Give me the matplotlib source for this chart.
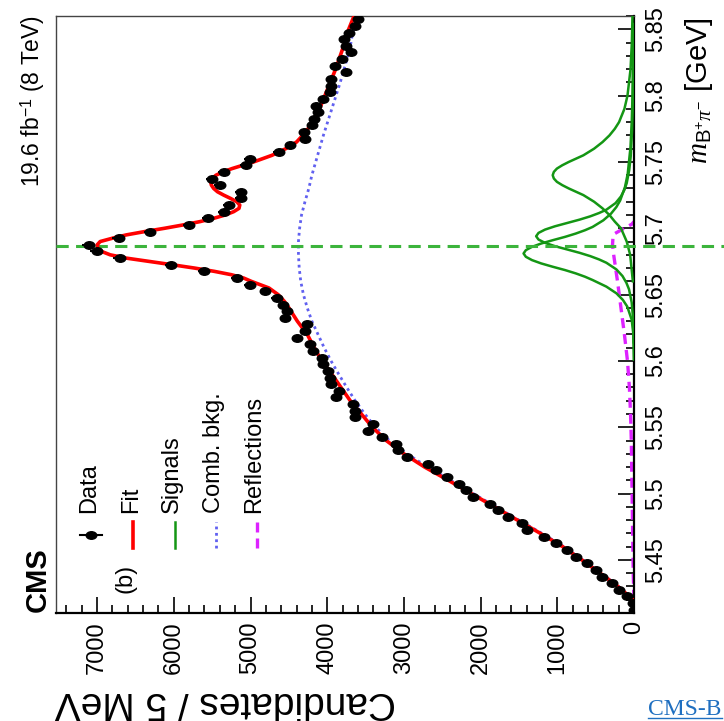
"""CMS B+pi- invariant mass fit, drawn rotated as in the source screenshot."""

import numpy as np
import matplotlib
matplotlib.use("Agg")
from matplotlib import pyplot as plt
from matplotlib.lines import Line2D
from matplotlib.path import Path
from matplotlib.transforms import Affine2D
from matplotlib.ticker import MultipleLocator, FuncFormatter

plt.rcParams["font.family"] = ["Liberation Sans", "DejaVu Sans"]
plt.rcParams["mathtext.fontset"] = "custom"
plt.rcParams["mathtext.rm"] = "Liberation Sans"
plt.rcParams["mathtext.it"] = "Liberation Serif:italic"
plt.rcParams["mathtext.bf"] = "Liberation Sans:bold"

# ---------------------------------------------------------------------------
# data (mass in GeV, counts per 5 MeV)
# ---------------------------------------------------------------------------
bin_lo = 5.41
bin_w = 0.005
data_counts = [
    0, 10, 91, 195, 286, 417, 495, 612, 755, 872,
    1016, 1172, 1393, 1458, 1641, 1771, 1875, 2096, 2187, 2279,
    2435, 2578, 2682, 2956, 3073, 3099, 3281, 3464, 3398, 3633,
    3633, 3659, 3880, 3841, 3945, 3958, 3984, 4049, 4063, 4180,
    4219, 4388, 4284, 4258, 4544, 4518, 4570, 4661, 4805, 5013,
    5182, 5612, 6042, 6706, 7005, 7109, 6719, 6315, 5807, 5560,
    5352, 5286, 5130, 5130, 5404, 5508, 5352, 5065, 5013, 4635,
    4479, 4284, 4297, 4200, 4167, 4115, 4141, 4049, 3958, 3945,
    3945, 3750, 3893, 3802, 3685, 3750, 3776, 3711, 3633, 3594,
]

fit_m = [5.419, 5.4225, 5.43, 5.44, 5.45, 5.46, 5.47, 5.48, 5.49, 5.50,
         5.51, 5.52, 5.53, 5.54, 5.55, 5.56, 5.57, 5.58, 5.59, 5.60,
         5.61, 5.62, 5.63, 5.64, 5.645, 5.65, 5.655, 5.66,
         5.6625, 5.665, 5.6675, 5.67, 5.6725, 5.675, 5.6775, 5.68, 5.6825, 5.685,
         5.6875, 5.69, 5.6925, 5.695, 5.6975, 5.70, 5.7025, 5.705, 5.7075, 5.71,
         5.7125, 5.715, 5.7175, 5.72, 5.7225, 5.725, 5.7275, 5.73, 5.7325, 5.735,
         5.7375, 5.74, 5.7425, 5.745, 5.7475, 5.75,
         5.755, 5.76, 5.765, 5.77, 5.775, 5.78,
         5.79, 5.80, 5.81, 5.82, 5.83, 5.84, 5.85, 5.86]
fit_v = [0, 60, 210, 440, 680, 930, 1220, 1520, 1820, 2120,
         2420, 2730, 3000, 3230, 3410, 3555, 3700, 3820, 3940, 4070,
         4170, 4260, 4390, 4500, 4560, 4640, 4760, 4990,
         5090, 5250, 5470, 5730, 6020, 6320, 6620, 6830, 6940, 6990,
         7000, 6960, 6800, 6620, 6380, 6120, 5880, 5660, 5480, 5330,
         5220, 5150, 5140, 5180, 5260, 5350, 5430, 5480, 5510, 5520,
         5500, 5450, 5360, 5240, 5100, 4960,
         4720, 4540, 4400, 4320, 4250, 4200,
         4100, 4030, 3960, 3890, 3830, 3770, 3720, 3650]

bkg_m = [5.419, 5.4225, 5.43, 5.44, 5.45, 5.46, 5.47, 5.48, 5.49, 5.50,
         5.51, 5.52, 5.53, 5.54, 5.55, 5.56, 5.57, 5.58, 5.59, 5.60,
         5.61, 5.62, 5.63, 5.64, 5.65, 5.66, 5.67, 5.68, 5.69, 5.70,
         5.71, 5.72, 5.73, 5.74, 5.75, 5.76, 5.77, 5.78, 5.79, 5.80,
         5.81, 5.82, 5.83, 5.84, 5.85, 5.86]
bkg_v = [0, 55, 200, 430, 670, 915, 1200, 1500, 1800, 2095,
         2390, 2690, 2960, 3190, 3370, 3510, 3635, 3745, 3850, 3950,
         4040, 4120, 4200, 4260, 4310, 4345, 4365, 4375, 4375, 4360,
         4335, 4290, 4240, 4200, 4150, 4100, 4050, 3995, 3940, 3885,
         3830, 3780, 3730, 3690, 3660, 3630]

sig1_m = [5.601, 5.621, 5.631, 5.641, 5.646, 5.651, 5.656, 5.661, 5.6635, 5.666,
          5.6685, 5.671, 5.6735, 5.676, 5.6785, 5.681, 5.6835, 5.686, 5.6885, 5.691,
          5.6935, 5.696, 5.6985, 5.701, 5.706, 5.711, 5.716, 5.721, 5.731, 5.741,
          5.761, 5.781, 5.801, 5.841]
sig1_v = [2, 10, 30, 88, 145, 230, 360, 540, 640, 760,
          900, 1060, 1210, 1330, 1410, 1440, 1410, 1330, 1210, 1060,
          900, 760, 640, 540, 400, 300, 230, 180, 118, 82,
          46, 29, 19, 10]

sig2_m = [5.614, 5.634, 5.644, 5.654, 5.659, 5.664, 5.669, 5.674, 5.6765, 5.679,
          5.6815, 5.684, 5.6865, 5.689, 5.6915, 5.694, 5.6965, 5.699, 5.7015, 5.704,
          5.7065, 5.709, 5.7115, 5.714, 5.719, 5.724, 5.729, 5.734, 5.744, 5.754,
          5.774, 5.794, 5.814, 5.854]
sig2_v = [4, 15, 30, 65, 100, 150, 230, 360, 455, 570,
          710, 870, 1030, 1160, 1245, 1276, 1245, 1160, 1030, 870,
          710, 570, 455, 360, 240, 170, 125, 95, 62, 43,
          25, 16, 11, 6]

sig3_m = [5.660, 5.680, 5.690, 5.700, 5.705, 5.710, 5.715, 5.720, 5.7225, 5.725,
          5.7275, 5.730, 5.7325, 5.735, 5.7375, 5.740, 5.7425, 5.745, 5.7475, 5.750,
          5.7525, 5.755, 5.7575, 5.760, 5.765, 5.770, 5.775, 5.780, 5.790, 5.800,
          5.820, 5.840, 5.860]
sig3_v = [15, 50, 95, 170, 250, 320, 410, 520, 590, 660,
          755, 850, 935, 1005, 1045, 1060, 1045, 1005, 935, 850,
          755, 660, 590, 520, 410, 320, 250, 195, 125, 85,
          45, 28, 20]

refl_m = [5.42, 5.44, 5.46, 5.48, 5.50, 5.52, 5.54, 5.56, 5.58, 5.60,
          5.62, 5.64, 5.66, 5.67, 5.68, 5.6875, 5.6925, 5.696, 5.70, 5.703, 5.705]
refl_v = [0, 10, 15, 20, 25, 30, 35, 45, 60, 85,
          125, 170, 215, 240, 265, 280, 275, 250, 130, 30, 0]

peak_mass = 5.6868

# ---------------------------------------------------------------------------
# figure
# ---------------------------------------------------------------------------
W, H = 724, 721


def fx(x):
    return x / W


def fy(y):
    return 1 - y / H


fig = plt.figure(figsize=(W / 100, H / 100), dpi=100)
ax = fig.add_axes([fx(55.7), fy(613), fx(634) - fx(55.7), fy(16) - fy(613)])

# ellipse marker (the screenshot is stretched sideways)
ell = Path.unit_circle().transformed(Affine2D().scale(1.4, 1.0))

counts = np.array(data_counts, dtype=float)
centers = bin_lo + bin_w * (np.arange(len(counts)) + 0.5)

ax.plot(bkg_v, bkg_m, color="#6060f0", lw=2.0, ls=(0, (1.0, 1.3)), zorder=2)
ax.plot(refl_v, refl_m, color="#dd22ff", lw=2.4, ls=(0, (3.0, 1.8)), zorder=2)
for sv, sm in [(sig1_v, sig1_m), (sig2_v, sig2_m), (sig3_v, sig3_m)]:
    ax.plot(sv, sm, color="#149614", lw=1.8, zorder=3)
ax.plot(fit_v, fit_m, color="#ff0000", lw=2.6, zorder=4)
ax.errorbar(counts, centers, xerr=np.sqrt(counts), fmt="none", ecolor="black",
            elinewidth=1.5, zorder=5)
ax.plot(counts, centers, ls="none", marker=ell, ms=7.6, color="black", zorder=6)

ax.axhline(peak_mass, xmin=0, xmax=(W - 55.7) / (634 - 55.7), color="#3cb43c",
           lw=2.2, ls=(0, (4.0, 2.4)), clip_on=False, zorder=3)

ax.set_xlim(7540, 0)
ax.set_ylim(5.41, 5.86)

ax.xaxis.set_major_locator(MultipleLocator(1000))
ax.xaxis.set_minor_locator(MultipleLocator(200))
ax.yaxis.set_major_locator(MultipleLocator(0.05))
ax.yaxis.set_minor_locator(MultipleLocator(0.01))
ax.yaxis.set_major_formatter(FuncFormatter(lambda v, p: f"{v:g}"))

ax.tick_params(axis="x", which="both", direction="in", bottom=True, top=False,
               labelrotation=90, labelsize=17, pad=6)
ax.tick_params(axis="y", which="both", direction="in", left=False, right=True,
               labelleft=False, labelright=True, labelrotation=90, labelsize=17, pad=8)
ax.tick_params(which="major", length=11.5, width=1.2)
ax.tick_params(which="minor", length=5.8, width=1.2)
for lab in ax.get_yticklabels():
    lab.set_va("center")

for side in ["top", "left"]:
    ax.spines[side].set_linewidth(1.0)
    ax.spines[side].set_color("#444444")
for side in ["bottom", "right"]:
    ax.spines[side].set_linewidth(1.6)

# axis titles
fig.text(fx(55), fy(684), "Candidates / 5 MeV", rotation=180, ha="left", va="top",
         fontsize=28)
fig.text(fx(683), fy(17), r"$m_{\mathrm{B}^{+}\pi^{-}}$ [GeV]", rotation=90,
         ha="left", va="top", fontsize=21)
fig.text(fx(18), fy(15), r"19.6 fb$^{-1}$ (8 TeV)", rotation=90, ha="left", va="top",
         fontsize=16.5)
fig.text(fx(52), fy(612), "CMS", rotation=90, ha="right", va="bottom",
         fontsize=21, fontweight="bold")
fig.text(fx(125), fy(593), "(b)", rotation=90, ha="center", va="bottom", fontsize=17)

# legend (rotated by hand)
leg_y0, leg_y1, leg_txt = 522, 548, 513
fig.add_artist(Line2D([fx(80), fx(102)], [fy(535), fy(535)], color="black", lw=1.5))
fig.add_artist(Line2D([fx(91)], [fy(535)], ls="none", marker=ell, ms=7.6, color="black"))
fig.text(fx(89), fy(leg_txt), "Data", rotation=90, ha="center", va="bottom", fontsize=17)
entries = [
    (133, 131, "Fit", dict(color="#ff0000", lw=2.6)),
    (175, 172, "Signals", dict(color="#149614", lw=1.8)),
    (216, 214, "Comb. bkg.", dict(color="#6060f0", lw=2.0, ls=(0, (1.0, 1.3)))),
    (257, 254, "Reflections", dict(color="#dd22ff", lw=2.4, ls=(0, (3.0, 1.8)))),
]
for hx, tx, label, style in entries:
    fig.add_artist(Line2D([fx(hx), fx(hx)], [fy(leg_y1), fy(leg_y0)], **style))
    fig.text(fx(tx), fy(leg_txt), label, rotation=90, ha="center", va="bottom", fontsize=17)

# link text at the bottom right of the screenshot
fig.text(fx(648), fy(715), "CMS-B", ha="left", va="baseline", fontsize=17,
         family="Liberation Serif", color="#1f6fc0")
fig.add_artist(Line2D([fx(648), fx(722)], [fy(718), fy(718)], color="#1f6fc0", lw=1.0))

fig.savefig("out.png", dpi=100)
